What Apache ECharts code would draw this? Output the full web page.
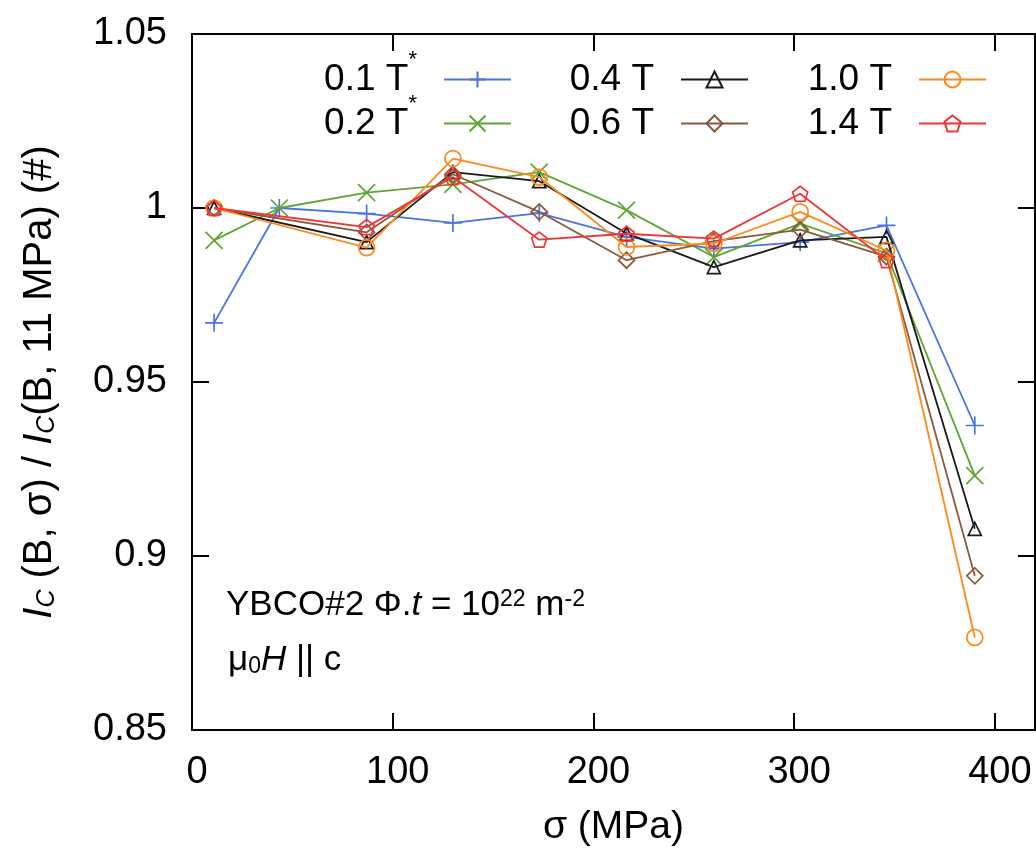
<!DOCTYPE html>
<html><head><meta charset="utf-8">
<script src="https://cdn.jsdelivr.net/npm/echarts@6/dist/echarts.min.js"></script>
<style>html,body{margin:0;padding:0;background:#fff}#c{width:1036px;height:853px}</style>
</head><body><div id="c"></div>
<script>
// stress values (MPa)
const sigmaFull = [11, 43.5, 87, 130, 173, 216.5, 260, 303, 346, 390];
const sigmaMain = [11, 87, 130, 173, 216.5, 260, 303, 346, 390];
const sigmaRed  = [11, 87, 130, 173, 216.5, 260, 303, 346];
// normalised Ic values
const ic01 = [0.967, 1.000, 0.9984, 0.9957, 0.9985, 0.9917, 0.9883, 0.9902, 0.9950, 0.9375];
const ic02 = [0.9907, 1.000, 1.0044, 1.0068, 1.0103, 0.9994, 0.9859, 0.9955, 0.9870, 0.9231];
const ic04 = [1.000, 0.9902, 1.0103, 1.0077, 0.9927, 0.9830, 0.9907, 0.9917, 0.9078];
const ic06 = [1.000, 0.9930, 1.0097, 0.9989, 0.9850, 0.9905, 0.9938, 0.9860, 0.8943];
const ic10 = [1.000, 0.9886, 1.0142, 1.0089, 0.9888, 0.9898, 0.9989, 0.9878, 0.8766];
const ic14 = [1.000, 0.9945, 1.0089, 0.9909, 0.9926, 0.9912, 1.0041, 0.9850];
const seriesNames = ['0.1 T*', '0.2 T*', '0.4 T', '0.6 T', '1.0 T', '1.4 T'];
const xTickInfo = {min: 0, max: 420, interval: 100};
const yTickInfo = {min: 0.85, max: 1.05, interval: 0.05};

const FONT = 'Liberation Sans, Arial, sans-serif';
const pair = (xs, ys) => xs.map((x, i) => [x, ys[i]]);

const styles = [
  {color: '#4d72e3', symbol: 'path://M0,5L10,5M5,0L5,10', size: 18},
  {color: '#5ea534', symbol: 'path://M0,0L10,10M10,0L0,10', size: 17},
  {color: '#1a1a1a', symbol: 'triangle', size: 13},
  {color: '#8a5a3e', symbol: 'diamond', size: 16},
  {color: '#ff8a1c', symbol: 'circle', size: 16},
  {color: '#ee3636', symbol: 'path://M5,0L9.755,3.455L7.939,9.045L2.061,9.045L0.245,3.455Z', size: 15}
];
const dataSets = [pair(sigmaFull, ic01), pair(sigmaFull, ic02), pair(sigmaMain, ic04),
                  pair(sigmaMain, ic06), pair(sigmaMain, ic10), pair(sigmaRed, ic14)];

const series = seriesNames.map((n, i) => ({
  name: n, type: 'line', data: dataSets[i], xAxisIndex: 0, yAxisIndex: 0,
  symbol: styles[i].symbol, symbolSize: styles[i].size, showSymbol: true,
  lineStyle: {color: styles[i].color, width: 1.8},
  itemStyle: {color: 'rgba(0,0,0,0)', borderColor: styles[i].color, borderWidth: 1.7},
  emphasis: {disabled: true}, animation: false, z: 2 + i
}));

const legendPos = [
  {right: 524, top: 49}, {right: 524, top: 93},
  {right: 287, top: 61}, {right: 287, top: 105},
  {right: 49, top: 61}, {right: 49, top: 105}
];
const legends = seriesNames.map((n, i) => ({
  data: [n], right: legendPos[i].right, top: legendPos[i].top, orient: 'horizontal',
  align: 'right', itemWidth: 67, itemHeight: 20, padding: 0, selectedMode: false,
  formatter: nm => nm.endsWith('*') ? '{t|' + nm.slice(0, -1) + '}{s|*}{p|}' : '{t|' + nm + '}{p|}',
  textStyle: {fontFamily: FONT, fontSize: 37, color: '#000',
    rich: {t: {fontFamily: FONT, fontSize: 37, color: '#000', padding: [12, 0, 12, 0]},
           s: {fontFamily: FONT, fontSize: 22, lineHeight: 22, color: '#000', verticalAlign: 'top'},
           p: {width: 22}}}
}));

const yFmt = v => String(parseFloat(v.toFixed(2)));
const axisCommon = {
  axisLine: {show: true, onZero: false, lineStyle: {color: '#000', width: 2}},
  axisTick: {show: true, inside: true, length: 17, lineStyle: {color: '#000', width: 2}},
  splitLine: {show: false}
};

const option = {
  backgroundColor: '#fff',
  animation: false,
  grid: {left: 192, right: 1, top: 34, bottom: 123, containLabel: false},
  legend: legends,
  xAxis: [
    Object.assign({type: 'value', min: xTickInfo.min, max: xTickInfo.max, interval: xTickInfo.interval, position: 'bottom',
     name: 'σ (MPa)', nameLocation: 'middle', nameGap: 78,
     nameTextStyle: {fontFamily: FONT, fontSize: 39, color: '#000'},
     axisLabel: {fontFamily: FONT, fontSize: 38, color: '#000', margin: 24, padding: [0, 0, 0, 10]}}, axisCommon),
    Object.assign({type: 'value', min: xTickInfo.min, max: xTickInfo.max, interval: xTickInfo.interval, position: 'top',
     axisLabel: {show: false}}, axisCommon)
  ],
  yAxis: [
    Object.assign({type: 'value', min: yTickInfo.min, max: yTickInfo.max, interval: yTickInfo.interval, position: 'left',
     name: '{i|I}{sub|C} (B, σ) / {i|I}{sub|C}(B, 11 MPa) (#)', nameLocation: 'middle', nameGap: 132,
     nameTextStyle: {fontFamily: FONT, fontSize: 40, color: '#000',
       rich: {i: {fontFamily: FONT, fontSize: 40, fontStyle: 'italic', color: '#000'},
              sub: {fontFamily: FONT, fontSize: 25, fontStyle: 'italic', color: '#000', verticalAlign: 'bottom'}}},
     axisLabel: {fontFamily: FONT, fontSize: 38, color: '#000', margin: 25, formatter: yFmt}}, axisCommon),
    Object.assign({type: 'value', min: yTickInfo.min, max: yTickInfo.max, interval: yTickInfo.interval, position: 'right',
     axisLabel: {show: false}}, axisCommon)
  ],
  graphic: [
    {type: 'text', left: 226, top: 588, z: 20,
     style: {text: 'YBCO#2 Φ.{it|t} = 10{sup|22} m{sup|-2}', fontFamily: FONT, fontSize: 35, fill: '#000',
       rich: {it: {fontFamily: FONT, fontSize: 35, fontStyle: 'italic', fill: '#000'},
              sup: {fontFamily: FONT, fontSize: 23, fill: '#000', verticalAlign: 'top'}}}},
    {type: 'text', left: 228, top: 643, z: 20,
     style: {text: 'μ{sub|0}{it|H} || c', fontFamily: FONT, fontSize: 35, fill: '#000',
       rich: {it: {fontFamily: FONT, fontSize: 35, fontStyle: 'italic', fill: '#000'},
              sub: {fontFamily: FONT, fontSize: 23, fill: '#000', verticalAlign: 'bottom'}}}}
  ],
  series: series
};
const chart = echarts.init(document.getElementById('c'), null, {renderer: 'canvas'});
chart.setOption(option);
</script></body></html>
